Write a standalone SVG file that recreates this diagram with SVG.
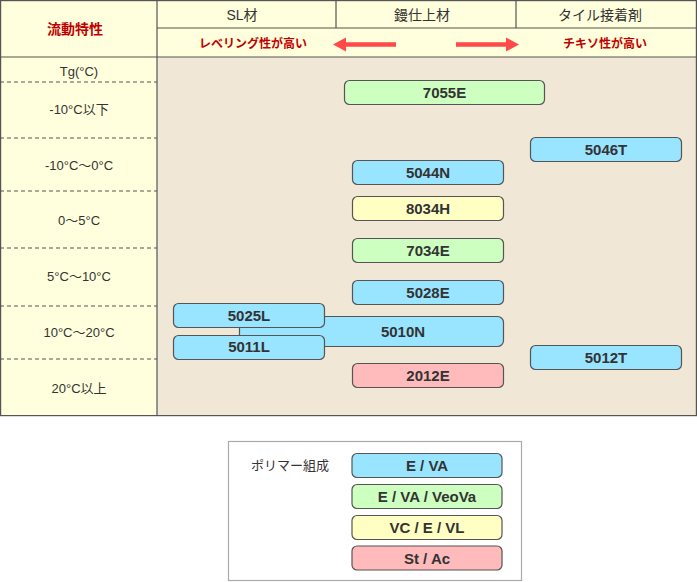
<svg xmlns="http://www.w3.org/2000/svg" width="697" height="582" viewBox="0 0 697 582">
<style>
.grid{stroke:#555;stroke-width:1.2;fill:none}
.dash{stroke:#555;stroke-width:1;stroke-dasharray:4 3;fill:none}
.hd{font-family:"Liberation Sans","Noto Sans CJK JP",sans-serif;font-size:14px;fill:#333;text-anchor:middle}
.red{font-family:"Liberation Sans","Noto Sans CJK JP",sans-serif;font-weight:bold;fill:#c00000;text-anchor:middle}
.row{font-family:"Liberation Sans","Noto Sans CJK JP",sans-serif;font-size:13px;fill:#333;text-anchor:middle}
.bx{stroke:#555;stroke-width:1.2}
.lb{font-family:"Liberation Sans","Noto Sans CJK JP",sans-serif;font-size:15px;font-weight:bold;fill:#333;text-anchor:middle}
.b{fill:#99e5ff}.g{fill:#ccffc0}.y{fill:#ffffc4}.p{fill:#ffbbbb}
.arr{fill:#ff4a4a}
</style>
<g id="table">
<rect x="0" y="0" width="697" height="416" fill="#ffffdd"/>
<rect x="157" y="57" width="540" height="359" fill="#f1e7d7"/>
<rect x="0.6" y="0.6" width="695.8" height="415" class="grid"/>
<line x1="157" y1="0" x2="157" y2="416" class="grid"/>
<line x1="0" y1="57" x2="697" y2="57" class="grid"/>
<line x1="157" y1="28" x2="697" y2="28" class="grid"/>
<line x1="336" y1="0" x2="336" y2="28" class="grid"/>
<line x1="516" y1="0" x2="516" y2="28" class="grid"/>
<line x1="0" y1="82" x2="157" y2="82" class="dash"/>
<line x1="0" y1="138" x2="157" y2="138" class="dash"/>
<line x1="0" y1="191" x2="157" y2="191" class="dash"/>
<line x1="0" y1="248" x2="157" y2="248" class="dash"/>
<line x1="0" y1="306" x2="157" y2="306" class="dash"/>
<line x1="0" y1="359" x2="157" y2="359" class="dash"/>
<text x="75" y="34" class="red" font-size="14">流動特性</text>
<text x="242" y="20" class="hd">SL材</text>
<text x="422" y="20" class="hd">鏝仕上材</text>
<text x="600" y="20" class="hd">タイル接着剤</text>
<text x="253" y="47.5" class="red" font-size="12">レベリング性が高い</text>
<text x="605" y="47.5" class="red" font-size="12">チキソ性が高い</text>
<polygon class="arr" points="333,44.5 346,37.5 346,42.3 396,42.3 396,46.7 346,46.7 346,51.5"/>
<polygon class="arr" points="519,44.5 506,37.5 506,42.3 456,42.3 456,46.7 506,46.7 506,51.5"/>
<text x="79" y="76" class="row">Tg(°C)</text>
<text x="79" y="114" class="row">-10°C以下</text>
<text x="79" y="170" class="row">-10°C〜0°C</text>
<text x="79" y="225" class="row">0〜5°C</text>
<text x="79" y="281" class="row">5°C〜10°C</text>
<text x="79" y="337" class="row">10°C〜20°C</text>
<text x="79" y="393" class="row">20°C以上</text>
</g>
<g id="connectors"></g>
<g id="n7055E"><rect x="344.5" y="80.5" width="200" height="24" rx="5" class="bx g"/><text x="444.5" y="98" class="lb">7055E</text></g>
<g id="n5046T"><rect x="530.5" y="137.5" width="151" height="24" rx="5" class="bx b"/><text x="606" y="155" class="lb">5046T</text></g>
<g id="n5044N"><rect x="352.5" y="160.5" width="151" height="24" rx="5" class="bx b"/><text x="428" y="178" class="lb">5044N</text></g>
<g id="n8034H"><rect x="352.5" y="196.5" width="151" height="24" rx="5" class="bx y"/><text x="428" y="214" class="lb">8034H</text></g>
<g id="n7034E"><rect x="352.5" y="238.5" width="151" height="24" rx="5" class="bx g"/><text x="428" y="256" class="lb">7034E</text></g>
<g id="n5028E"><rect x="352.5" y="280.5" width="151" height="24" rx="5" class="bx b"/><text x="428" y="298" class="lb">5028E</text></g>
<g id="n5010N"><rect x="239.5" y="316.5" width="264" height="30" rx="6" class="bx b"/><text x="403" y="337" class="lb">5010N</text></g>
<g id="n5025L"><rect x="173.5" y="303.5" width="151" height="24" rx="5" class="bx b"/><text x="249" y="321" class="lb">5025L</text></g>
<g id="n5011L"><rect x="173.5" y="335.5" width="151" height="24" rx="5" class="bx b"/><text x="249" y="352" class="lb">5011L</text></g>
<g id="n2012E"><rect x="352.5" y="363.5" width="151" height="24" rx="5" class="bx p"/><text x="428" y="381" class="lb">2012E</text></g>
<g id="n5012T"><rect x="530.5" y="345.5" width="151" height="24" rx="5" class="bx b"/><text x="606" y="363" class="lb">5012T</text></g>
<g id="legend">
<rect x="228.5" y="441.5" width="293" height="139" fill="#fff" stroke="#aaa" stroke-width="1.2"/>
<text x="290" y="470" class="row">ポリマー組成</text>
<rect x="352" y="453.5" width="150" height="24" rx="5" class="bx b"/><text x="427" y="471" class="lb">E / VA</text>
<rect x="352" y="484.5" width="150" height="24" rx="5" class="bx g"/><text x="427" y="502" class="lb">E / VA / VeoVa</text>
<rect x="352" y="515.5" width="150" height="24" rx="5" class="bx y"/><text x="427" y="533" class="lb">VC / E / VL</text>
<rect x="352" y="546" width="150" height="24" rx="5" class="bx p"/><text x="427" y="563.5" class="lb">St / Ac</text>
</g>
</svg>
